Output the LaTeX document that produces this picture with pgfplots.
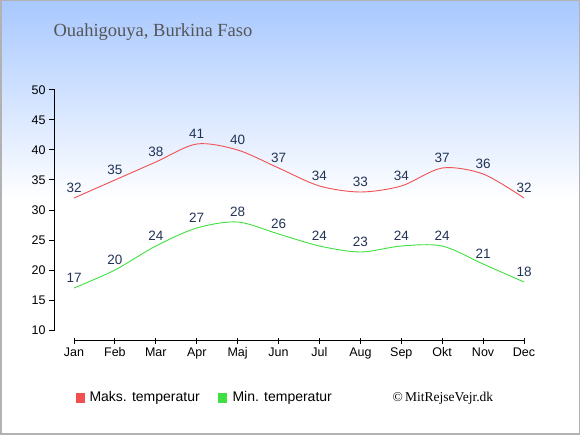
\documentclass[border=0pt]{standalone}
\usepackage{pgfplots}
\pgfplotsset{compat=1.18}
\usepackage{fontspec}
\setmainfont{Liberation Sans}
\newfontfamily\serif{Liberation Serif}
\definecolor{bgtop}{HTML}{A8C8FF}
\definecolor{maxc}{HTML}{F05050}
\definecolor{minc}{HTML}{40E040}
\definecolor{lab}{HTML}{223355}
\definecolor{titc}{HTML}{555555}
\begin{document}
\begin{tikzpicture}[x=1pt,y=1pt]
\fill[white] (0,0) rectangle (580,435);
\shade[top color=bgtop,bottom color=white] (0,235) rectangle (580,435);
\draw[gray!60,line width=1.5] (0.75,0.75) rectangle (579.25,434.25);
\node[anchor=west,font=\serif\fontsize{18.5}{22}\selectfont,text=titc] at (50,403) {Ouahigouya, Burkina Faso};
\begin{axis}[
  at={(55pt,94pt)}, anchor=south west,
  scale only axis, width=469pt, height=251pt,
  xmin=-0.465, xmax=11, ymin=8.17, ymax=50,
  axis x line=bottom, axis y line=left,
  x axis line style={draw=none,-}, y axis line style={draw=none,-},
  xtick={0,...,11},
  xticklabels={Jan,Feb,Mar,Apr,Maj,Jun,Jul,Aug,Sep,Okt,Nov,Dec},
  ytick={10,15,...,50},
  xtick align=center, ytick align=outside,
  major tick length=6pt,
  tick style={black,line width=1pt},
  tick label style={font=\fontsize{12.5}{14}\selectfont},
  /pgf/number format/assume math mode=true,
  clip=false,
  every node near coord/.style={font=\fontsize{13.5}{16}\selectfont,text=lab,anchor=south,yshift=2pt},
]
\draw[black,line width=1pt] (axis cs:-0.465,10) -- (axis cs:-0.465,50);
\draw[black,line width=1pt] (axis cs:0,8.17) -- (axis cs:11,8.17);
\addplot[maxc,line width=0.9pt,smooth,tension=0.5,nodes near coords] coordinates {
(0,32) (1,35) (2,38) (3,41) (4,40) (5,37) (6,34) (7,33) (8,34) (9,37) (10,36) (11,32)};
\addplot[minc,line width=0.9pt,smooth,tension=0.5,nodes near coords] coordinates {
(0,17) (1,20) (2,24) (3,27) (4,28) (5,26) (6,24) (7,23) (8,24) (9,24) (10,21) (11,18)};
\end{axis}
\fill[maxc] (76,32) rectangle (85,42);
\node[anchor=west,font=\fontsize{14}{16}\selectfont] at (86,37) {Maks. temperatur};
\fill[minc] (218,32) rectangle (227,42);
\node[anchor=west,font=\fontsize{14}{16}\selectfont] at (229,37) {Min. temperatur};
\node[anchor=west,font=\serif\fontsize{13.5}{16}\selectfont] at (389,37) {\textcopyright\,MitRejseVejr.dk};
\end{tikzpicture}
\end{document}
